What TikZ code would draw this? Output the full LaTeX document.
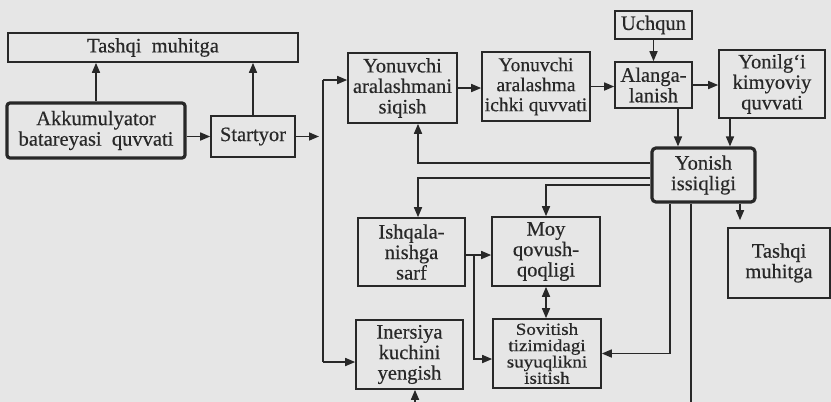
\documentclass[tikz,border=0pt]{standalone}
\usepackage{fontspec}
\setmainfont{Liberation Serif}[FakeBold=0.4]
\newfontfamily\sovfont{Liberation Serif}[FakeStretch=1.12,FakeBold=0.6]
\usetikzlibrary{arrows.meta}
\definecolor{ink}{RGB}{40,40,40}
\definecolor{paper}{RGB}{230,230,230}
\tikzset{
  box/.style={draw=ink, line width=1.6pt, rectangle, inner sep=0pt, align=center,
    text=ink, font=\fontsize{20.5}{20.5}\selectfont},
  heavybox/.style={box, line width=3.2pt, rounded corners=3pt},
  conn/.style={draw=ink, line width=1.6pt},
  arr/.style={conn, -{Triangle[length=10pt,width=8pt]}},
  arrboth/.style={conn, {Triangle[length=10pt,width=8pt]}-{Triangle[length=10pt,width=8pt]}},
  bsz/.style 2 args={minimum width=#1pt, minimum height=#2pt}
}
\begin{document}
\begin{tikzpicture}[x=1pt,y=-1pt]
\useasboundingbox (0,0) rectangle (831,402);
\fill[paper] (0,0) rectangle (831,402);
\clip (0,0) rectangle (831,402);

% boxes
\node[box, bsz={290}{29}] (tA) at (153,47.5) {Tashqi\ \ muhitga};
\node[heavybox, bsz={178}{55}] (akk) at (96,130.5) {Akkumulyator\\batareyasi\ \ quvvati};
\node[box, bsz={84}{41}] (start) at (253,136.5) {Startyor};
\node[box, bsz={109}{70}] (siq) at (402.5,88) {Yonuvchi\\aralashmani\\siqish};
\node[box, bsz={108}{69}, font=\fontsize{19.5}{20}\selectfont] (ara) at (536,86.5) {Yonuvchi\\aralashma\\ichki quvvati};
\node[box, bsz={77}{28}] (uch) at (653.5,25) {Uchqun};
\node[box, bsz={77}{46}] (ala) at (653.5,85) {Alanga-\\lanish};
\node[box, bsz={106}{68}] (yon) at (772,84) {Yonilg`i\\kimyoviy\\quvvati};
\node[heavybox, rounded corners=4pt, bsz={103}{54}] (yis) at (703.5,175) {Yonish\\issiqligi};
\node[box, bsz={102}{70}] (tB) at (779,263) {Tashqi\\muhitga};
\node[box, bsz={107}{68}] (ish) at (411.5,252) {Ishqala-\\nishga\\sarf};
\node[box, bsz={108}{69}] (moy) at (546,251.5) {Moy\\qovush-\\qoqligi};
\node[box, bsz={107}{69}] (ine) at (409.5,354.5) {Inersiya\\kuchini\\yengish};
\node[box, bsz={108}{69}, font=\sovfont\fontsize{17}{16.3}\selectfont] (sov) at (547,353.5) {Sovitish\\tizimidagi\\suyuqlikni\\isitish};

% bus on the left
\coordinate (bT) at (323,80);
\coordinate (bB) at (323,362);
\coordinate (low) at (0,430);

% connectors
\draw[arr] (akk.north) -- (akk.north |- tA.south);
\draw[arr] (start.north) -- (start.north |- tA.south);
\draw[arr] (akk.east |- start.west) -- (start.west);
\draw[arr] (start.east) -- ([xshift=-4pt]start.east -| bT);
\draw[conn] (bT) -- (bB);
\draw[arr] (bT) -- (bT -| siq.west);
\draw[arr] (bB) -- (bB -| ine.west);

\draw[arr] (siq.east) -- (siq.east -| ara.west);
\draw[arr] (ara.east) -- (ara.east -| ala.west);
\draw[arr] (uch.south) -- (ala.north);
\draw[arr] (ala.east) -- (ala.east -| yon.west);
\draw[arr] ([xshift=24.5pt]ala.south) -- ([xshift=24.5pt]ala.south |- yis.north);
\draw[arr] ([xshift=-42pt]yon.south) -- ([xshift=-42pt]yon.south |- yis.north);

\draw[arr] ([yshift=12pt]yis.west) -| ([xshift=15.5pt]siq.south);
\draw[arr] ([yshift=-3pt]yis.west) -| ([xshift=6.5pt]ish.north);
\draw[arr] ([yshift=-10pt]yis.west) -| (moy.north);

\draw[arr] ([yshift=-3pt]ish.east) -- ([yshift=-3pt]ish.east -| moy.west);
\draw[arr] ([xshift=8pt,yshift=-3pt]ish.east) |- ([yshift=-5.5pt]sov.west);
\draw[arrboth] (moy.south) -- (moy.south |- sov.north);

\draw[arr] ([xshift=-33.5pt]yis.south) |- (sov.east);
\draw[arr] ([xshift=-12.5pt]yis.south) |- ([xshift=5.5pt]ine.south |- low) -- ([xshift=5.5pt]ine.south);
\draw[arr, shorten >=7pt] ([xshift=36.5pt]yis.south) -- ([xshift=36.5pt]yis.south |- tB.north);
\end{tikzpicture}
\end{document}
